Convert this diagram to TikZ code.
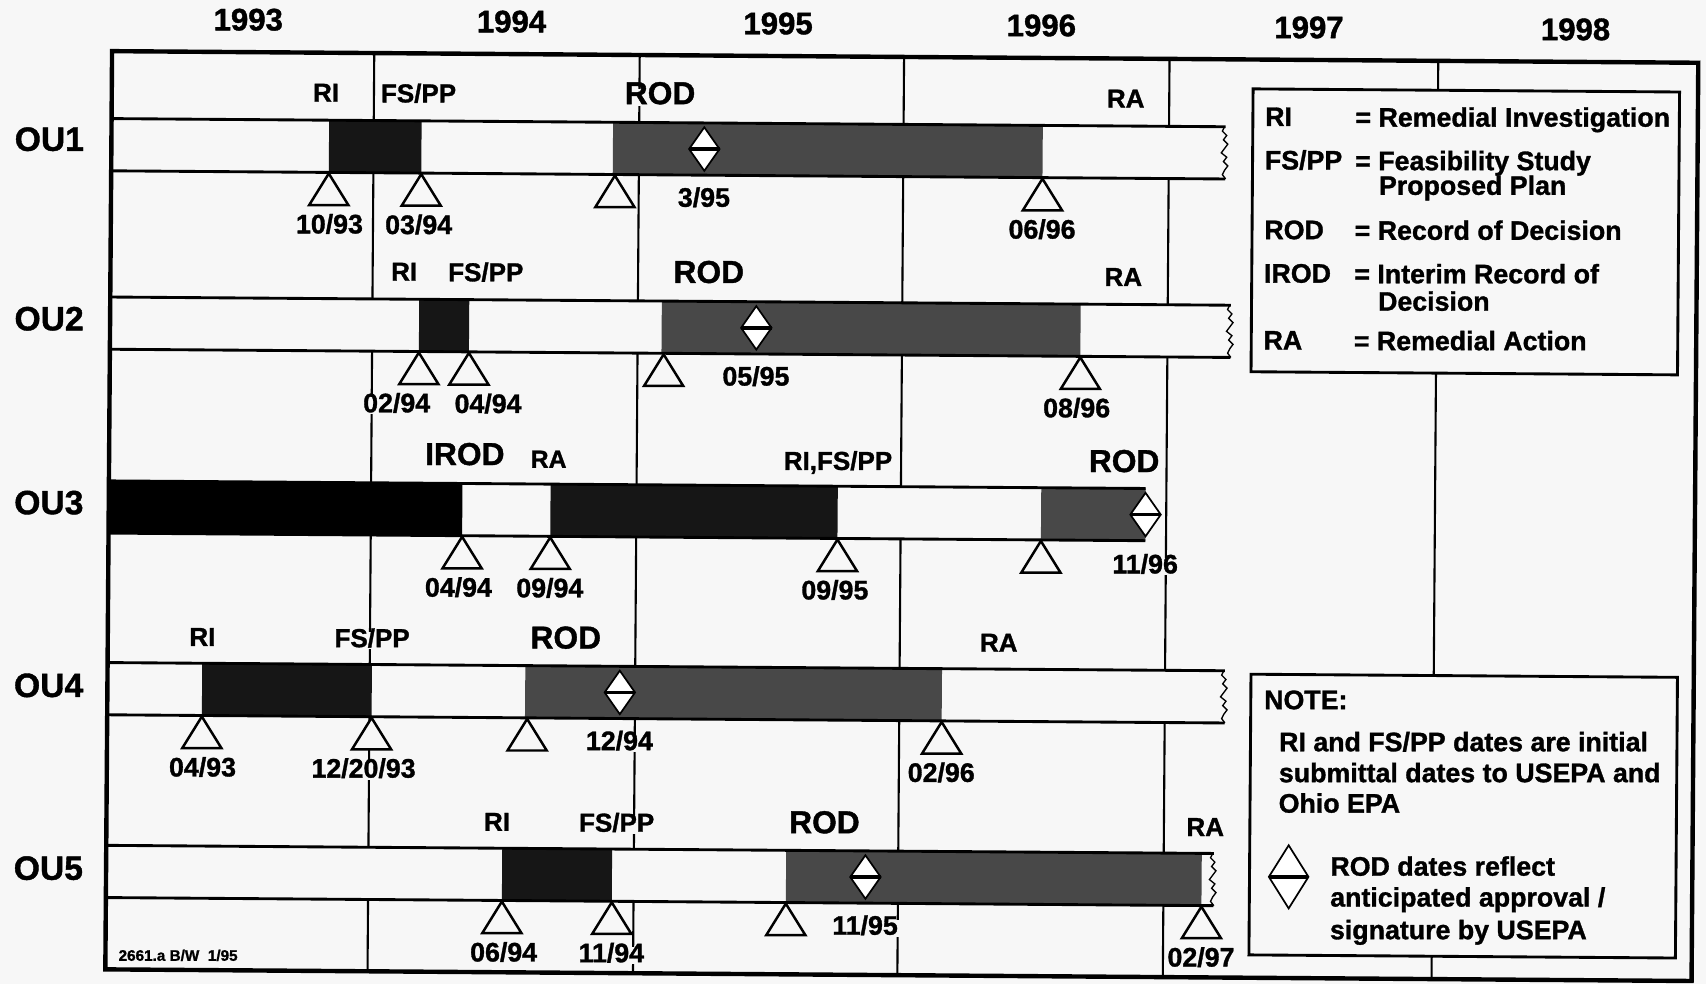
\documentclass[tikz,border=0pt]{standalone}
\usepackage{fontspec}
\setmainfont{Liberation Sans}[BoldFeatures={FakeBold=1.2}]
\usetikzlibrary{positioning}

\begin{document}
\begin{tikzpicture}[x=0.02cm, y=-0.02cm, line join=miter]

	% Colors (scanned paper look)
	\definecolor{paperB}{RGB}{247,247,247}
	\definecolor{darkG}{RGB}{72,72,72}
	\definecolor{blackR}{RGB}{22,22,22}

	\tikzset{
		frameL/.style={line width=2.3pt},
		yearL/.style={line width=1.1pt},
		barL/.style={line width=1.5pt},
		ragL/.style={line width=0.7pt},
		txt/.style={text height=1.3ex, text depth=0pt, inner sep=1pt},
		yr/.style={txt, font=\fontsize{16.3}{18}\selectfont\bfseries},
		ou/.style={txt, font=\fontsize{17.6}{20}\selectfont\bfseries},
		lab/.style={txt, fill=paperB, font=\fontsize{13.6}{15}\selectfont\bfseries},
		labBig/.style={txt, fill=paperB, font=\fontsize{16.6}{18}\selectfont\bfseries},
		dt/.style={txt, fill=paperB, font=\fontsize{14}{16}\selectfont\bfseries},
		leg/.style={txt, anchor=west, inner sep=0pt, font=\fontsize{14}{15}\selectfont\bfseries},
		box/.style={draw=black, line width=1.5pt, fill=paperB},
		tri/.pic={\draw[line width=1.3pt, fill=paperB] (0,0) -- (18,29) -- (-18,29) -- cycle;},
		dia/.pic={\draw[line width=0.9pt, fill=white] (0,-20) -- (14,0) -- (0,20) -- (-14,0) -- cycle;
			\draw[line width=1.8pt] (-14,0) -- (14,0);},
		rag/.pic={\draw[ragL] (0,0) -- (-2,4) -- (2,8) -- (-1,12) -- (3,16) -- (0,20) -- (-3,24) -- (2,28) -- (-1,32) -- (3,36) -- (0,40) -- (-2,44) -- (1,48);},
	}

	\fill[paperB] (0,0) rectangle (1568,904);
	\useasboundingbox (0,0) rectangle (1568,904);

	\begin{scope}[rotate around={-0.42:(103,47)}]

	% --- year grid
	\draw[yearL] (344,47) -- (344,890) (588,47) -- (588,890) (831,47) -- (831,890)
		(1075,47) -- (1075,890) (1322,47) -- (1322,890);

	% --- OU1
	\fill[paperB] (103,109) rectangle (1126,157);
	\fill[blackR] (303,109) rectangle (388,157);
	\fill[darkG] (564,109) rectangle (959,157);
	\draw[barL] (103,109) -- (1127,109) (103,157) -- (1127,157);
	\pic at (1126,109) {rag};
	\pic at (648,133) {dia};
	\pic at (303,158) {tri};
	\pic at (388,158) {tri};
	\pic at (566,158) {tri};
	\pic at (959,158) {tri};
	\node[lab] (ou1ri) at (300,86) {RI};
	\node[lab] (ou1fs) at (385,86) {FS/PP};
	\node[labBig] (ou1rod) at (607,86) {ROD};
	\node[lab] (ou1ra) at (1035,86) {RA};
	\node[dt] (ou1d1) at (304,207) {10/93};
	\node[dt] (ou1d2) at (386,207) {03/94};
	\node[dt] (ou1d3) at (648,180) {3/95};
	\node[dt] (ou1d4) at (959,207) {06/96};

	% --- OU2
	\fill[paperB] (103,273) rectangle (1132,321);
	\fill[blackR] (387,273) rectangle (433,321);
	\fill[darkG] (610,273) rectangle (995,321);
	\draw[barL] (103,273) -- (1133,273) (103,321) -- (1133,321);
	\pic at (1132,273) {rag};
	\pic at (697,297) {dia};
	\pic at (387,322) {tri};
	\pic at (433,322) {tri};
	\pic at (612,322) {tri};
	\pic at (995,322) {tri};
	\node[lab] (ou2ri) at (373,250) {RI};
	\node[lab] (ou2fs) at (448,250) {FS/PP};
	\node[labBig] (ou2rod) at (653,250) {ROD};
	\node[lab] (ou2ra) at (1034,250) {RA};
	\node[dt] (ou2d1) at (367,371) {02/94};
	\node[dt] (ou2d2) at (451,371) {04/94};
	\node[dt] (ou2d3) at (697,344) {05/95};
	\node[dt] (ou2d4) at (992,371) {08/96};

	% --- OU3
	\fill[paperB] (103,442) rectangle (1056,490);
	\fill[black] (103,442) rectangle (428,490);
	\fill[blackR] (509,442) rectangle (773,490);
	\fill[darkG] (960,442) rectangle (1056,490);
	\draw[barL] (103,442) -- (1056,442) (103,490) -- (1056,490);
	\pic at (1056,466) {dia};
	\pic at (428,491) {tri};
	\pic at (509,491) {tri};
	\pic at (773,491) {tri};
	\pic at (960,491) {tri};
	\node[labBig] (ou3irod) at (430,419) {IROD};
	\node[lab, font=\fontsize{13}{14}\selectfont\bfseries] (ou3ra) at (507,421) {RA};
	\node[lab] (ou3rifs) at (773,421) {RI,FS/PP};
	\node[labBig] (ou3rod) at (1036,421) {ROD};
	\node[dt] (ou3d1) at (425,540) {04/94};
	\node[dt] (ou3d2) at (509,540) {09/94};
	\node[dt] (ou3d3) at (771,540) {09/95};
	\node[dt] (ou3d4) at (1056,514) {11/96};

	% --- OU4
	\fill[paperB] (103,609) rectangle (1129,657);
	\fill[blackR] (190,609) rectangle (346,657);
	\fill[darkG] (487,609) rectangle (870,657);
	\draw[barL] (103,609) -- (1130,609) (103,657) -- (1130,657);
	\pic at (1129,609) {rag};
	\pic at (574,633) {dia};
	\pic at (190,658) {tri};
	\pic at (346,658) {tri};
	\pic at (489,658) {tri};
	\pic at (870,658) {tri};
	\node[lab] (ou4ri) at (190,587) {RI};
	\node[lab] (ou4fs) at (346,587) {FS/PP};
	\node[labBig] (ou4rod) at (524,587) {ROD};
	\node[lab] (ou4ra) at (922,587) {RA};
	\node[dt] (ou4d1) at (191,707) {04/93};
	\node[dt] (ou4d2) at (339,707) {12/20/93};
	\node[dt] (ou4d3) at (574,680) {12/94};
	\node[dt] (ou4d4) at (870,707) {02/96};

	% --- OU5
	\fill[paperB] (103,777) rectangle (1120,825);
	\fill[blackR] (467,777) rectangle (568,825);
	\fill[darkG] (728,777) rectangle (1110,825);
	\draw[barL] (103,777) -- (1121,777) (103,825) -- (1121,825);
	\pic at (1120,777) {rag};
	\pic at (801,801) {dia};
	\pic at (467,826) {tri};
	\pic at (568,826) {tri};
	\pic at (728,826) {tri};
	\pic at (1110,826) {tri};
	\node[lab] (ou5ri) at (462,755) {RI};
	\node[lab] (ou5fs) at (572,755) {FS/PP};
	\node[labBig] (ou5rod) at (763,755) {ROD};
	\node[lab] (ou5ra) at (1113,755) {RA};
	\node[dt] (ou5d1) at (469,875) {06/94};
	\node[dt] (ou5d2) at (568,875) {11/94};
	\node[dt] (ou5d3) at (801,848) {11/95};
	\node[dt] (ou5d4) at (1110,875) {02/97};

	% --- legend
	\draw[box] (1152,74) rectangle (1544,334);
	\node[leg] (kri) at (1163,102) {RI};
	\node[leg] (kriT) at (1246,102) {= Remedial Investigation};
	\node[leg] (kfs) at (1163,142) {FS/PP};
	\node[leg] (kfsT) at (1246,142) {= Feasibility Study};
	\node[leg] (kfsT2) at (1268,164.5) {Proposed Plan};
	\node[leg] (krod) at (1163,206) {ROD};
	\node[leg] (krodT) at (1246,206) {= Record of Decision};
	\node[leg] (kirod) at (1163,246) {IROD};
	\node[leg] (kirodT) at (1246,246) {= Interim Record of};
	\node[leg] (kirodT2) at (1268,271) {Decision};
	\node[leg] (kra) at (1163,307.5) {RA};
	\node[leg] (kraT) at (1246,307.5) {= Remedial Action};

	% --- note
	\draw[box] (1154,612) rectangle (1546,870);
	\node[leg] (note) at (1166,638) {NOTE:};
	\node[leg] (note1) at (1180,676.6) {RI and FS/PP dates are initial};
	\node[leg] (note2) at (1180,705) {submittal dates to USEPA and};
	\node[leg] (note3) at (1180,733) {Ohio EPA};
	\pic[xscale=1.3, yscale=1.45] at (1190,798) {dia};
	\node[leg] (note4) at (1228,790.6) {ROD dates reflect};
	\node[leg] (note5) at (1228,819) {anticipated approval /};
	\node[leg] (note6) at (1228,849) {signature by USEPA};

	% --- frame, row names, years
	\draw[frameL] (103,47) rectangle (1561,891);
	\node[txt, anchor=west, font=\fontsize{8}{9}\selectfont\bfseries] (tag) at (113,877) {2661.a B/W\ \ 1/95};

	\node[ou] (ou1) at (46,133) {OU1};
	\node[ou] (ou2) at (47,298) {OU2};
	\node[ou] (ou3) at (48,467) {OU3};
	\node[ou] (ou4) at (49,635) {OU4};
	\node[ou] (ou5) at (50,803) {OU5};

	\node[yr] (y93) at (228,21) {1993};
	\node[yr] (y94) at (470,21) {1994};
	\node[yr] (y95) at (715,21) {1995};
	\node[yr] (y96) at (957,21) {1996};
	\node[yr] (y97) at (1203,21) {1997};
	\node[yr] (y98) at (1448,21) {1998};

	\end{scope}

\end{tikzpicture}
\end{document}
